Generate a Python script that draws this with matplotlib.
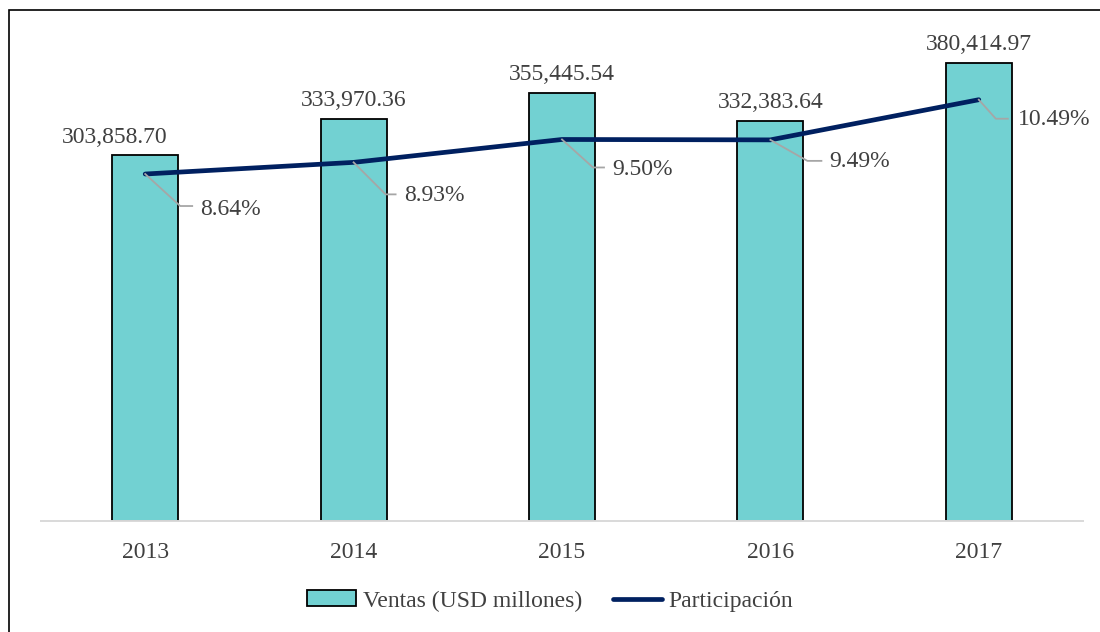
import matplotlib
matplotlib.use("Agg")
import matplotlib.pyplot as plt
from matplotlib.patches import Patch, Rectangle
from matplotlib.lines import Line2D

plt.rcParams["font.family"] = ["Liberation Serif", "DejaVu Serif"]

years = ["2013", "2014", "2015", "2016", "2017"]
ventas = [303858.70, 333970.36, 355445.54, 332383.64, 380414.97]
participacion = [8.64, 8.93, 9.50, 9.49, 10.49]

TEAL = "#72D1D2"
NAVY = "#002060"
TEXT = "#404040"
LEADER = "#A6A6A6"
FS = 17

W, H, DPI = 1100, 632, 100
fig = plt.figure(figsize=(W / DPI, H / DPI), dpi=DPI)

# plot area in pixels: x 41..1083, y 20..521 (from top)
ax = fig.add_axes([41 / W, (H - 521) / H, 1042 / W, 501 / H])
ax2 = ax.twinx()

x = range(len(years))
ax.bar(x, ventas, width=0.317, color=TEAL, edgecolor="black", linewidth=1.3, zorder=2)
ax.set_xlim(-0.5, len(years) - 0.5)
ax.set_ylim(0, 416000)
ax2.set_ylim(0, 12.475)

ax2.plot(x, participacion, color=NAVY, linewidth=3.4, solid_capstyle="round", zorder=3)

for a in (ax, ax2):
    for side in ("top", "right", "left", "bottom"):
        a.spines[side].set_visible(False)
    a.set_yticks([])
ax.spines["bottom"].set_visible(True)
ax.spines["bottom"].set_color("#D9D9D9")
ax.spines["bottom"].set_linewidth(1.4)
ax.set_xticks(list(x))
ax.set_xticklabels(years, fontsize=FS, color=TEXT)
ax.tick_params(axis="x", length=0, pad=15)

# value labels above bars (first one nudged left)
label_dx = [-22, 0, 0, 0, 0]
for xi, v, ddx in zip(x, ventas, label_dx):
    ax.annotate(f"{v:,.2f}", (xi, v), xytext=(ddx, 9), textcoords="offset points",
                ha="center", va="baseline", fontsize=FS, color=TEXT)

# percentage labels with leader lines (pixel offsets: diagonal end, horizontal end, text)
leaders = [
    (35, 32, 47, 55, 35),
    (32, 32, 42, 51, 33),
    (31, 28, 42, 50, 30),
    (37, 21, 51, 59, 22),
    (17, 19, 29, 39, 20),
]
fig.canvas.draw()
for xi, p, (dx, dy, hx, tx, ty) in zip(x, participacion, leaders):
    px, py = ax2.transData.transform((xi, p))
    xs = [px, px + dx, px + hx]
    ys = [py, py - dy, py - dy]
    fig.add_artist(Line2D(xs, ys, transform=None, color=LEADER, linewidth=1.3, zorder=4))
    fig.text(px + tx, py - ty, f"{p:.2f}%", transform=None, ha="left", va="center",
             fontsize=FS, color=TEXT, zorder=5)

handles = [
    Patch(facecolor=TEAL, edgecolor="black", linewidth=1.3, label="Ventas (USD millones)"),
    Line2D([], [], color=NAVY, linewidth=3.4, solid_capstyle="round", label="Participación"),
]
fig.legend(handles=handles, loc="center", bbox_to_anchor=(550 / W, (H - 601) / H),
           ncol=2, frameon=False, fontsize=FS, labelcolor=TEXT, handlelength=2.08,
           handleheight=0.64, handletextpad=0.3, columnspacing=1.3, borderpad=0)

# outer frame (top and left edges visible)
fig.add_artist(Rectangle((9 / W, -0.1), 1.2, 1.1 - 10 / H, transform=fig.transFigure,
                         fill=False, edgecolor="black", linewidth=1.2, clip_on=False))

fig.savefig("out.png", dpi=DPI)
